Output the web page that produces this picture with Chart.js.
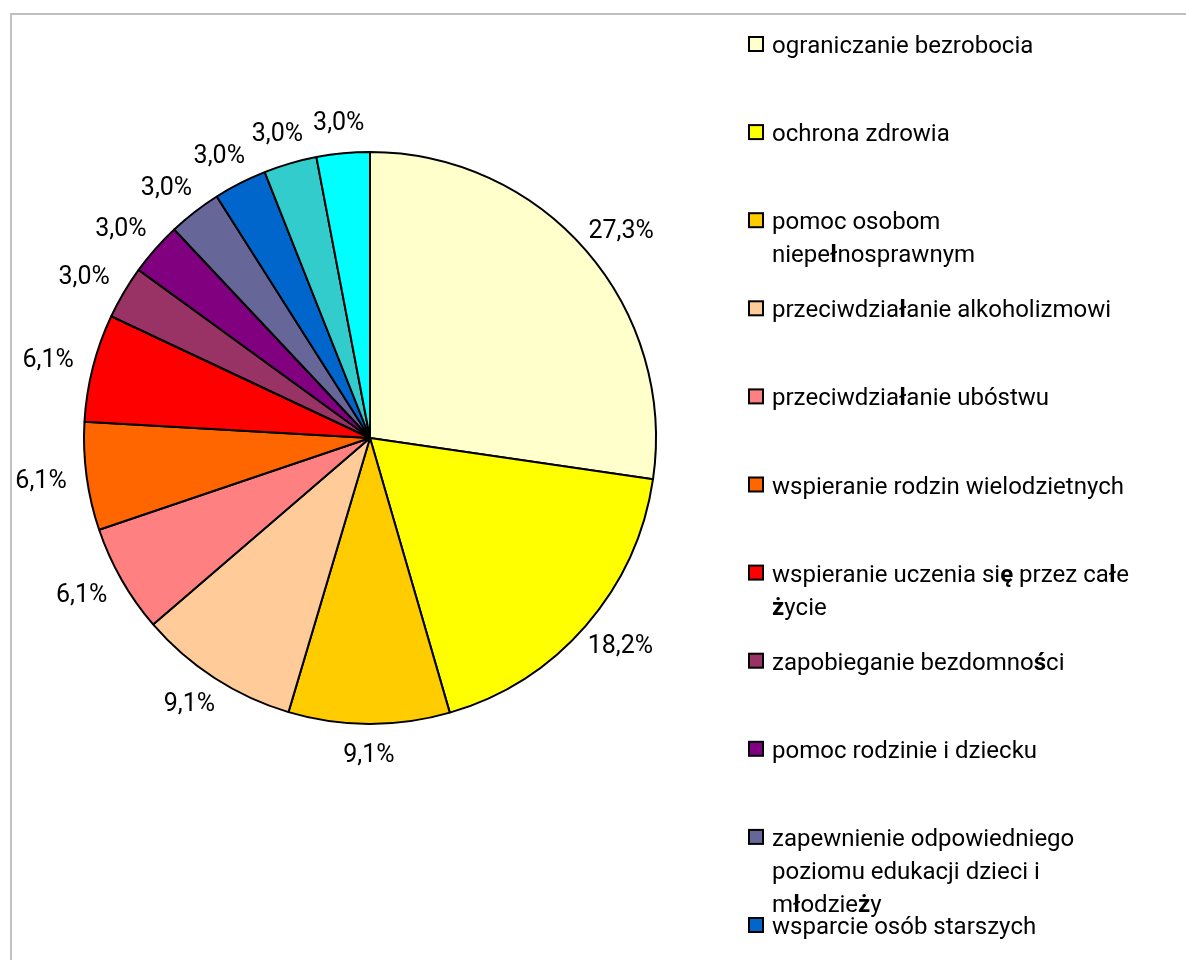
<!DOCTYPE html>
<html><head><meta charset="utf-8">
<script src="https://cdn.jsdelivr.net/npm/chart.js@4.4.0/dist/chart.umd.min.js"></script>
<style>
html,body{margin:0;padding:0;background:#fff;}
#wrap{position:relative;width:1186px;height:960px;overflow:hidden;}
#frame{position:absolute;left:10px;top:13px;width:1200px;height:1000px;border-top:2px solid #c0c0c0;border-left:2px solid #c0c0c0;}
#box{position:absolute;left:0;top:0;width:1186px;height:960px;}
</style></head><body>
<div id="wrap"><div id="frame"></div><div id="box"><canvas id="c"></canvas></div></div>
<script>
const categories = [
  ["ograniczanie bezrobocia"],
  ["ochrona zdrowia"],
  ["pomoc osobom", "niepełnosprawnym"],
  ["przeciwdziałanie alkoholizmowi"],
  ["przeciwdziałanie ubóstwu"],
  ["wspieranie rodzin wielodzietnych"],
  ["wspieranie uczenia się przez całe", "życie"],
  ["zapobieganie bezdomności"],
  ["pomoc rodzinie i dziecku"],
  ["zapewnienie odpowiedniego", "poziomu edukacji dzieci i", "młodzieży"],
  ["wsparcie osób starszych"],
  ["obszar 12"],
  ["obszar 13"]
];
const shares = [27.3, 18.2, 9.1, 9.1, 6.1, 6.1, 6.1, 3.0, 3.0, 3.0, 3.0, 3.0, 3.0];
const shareLabels = ["27,3%", "18,2%", "9,1%", "9,1%", "6,1%", "6,1%", "6,1%", "3,0%", "3,0%", "3,0%", "3,0%", "3,0%", "3,0%"];
const sliceColors = ["#FFFFCC", "#FFFF00", "#FFCC00", "#FFCC99", "#FF8080", "#FF6600", "#FF0000", "#993366", "#800080", "#666699", "#0066CC", "#33CCCC", "#00FFFF"];

const FONT = "Roboto, 'Liberation Sans', sans-serif";

const sliceLabelPlugin = {
  id: 'sliceLabels',
  afterDatasetsDraw(chart) {
    const ctx = chart.ctx;
    const meta = chart.getDatasetMeta(0);
    ctx.save();
    ctx.font = "25px " + FONT;
    ctx.fillStyle = "#000";
    ctx.textAlign = "center";
    ctx.textBaseline = "middle";
    meta.data.forEach((arc, i) => {
      const p = arc.getProps(['x', 'y', 'startAngle', 'endAngle', 'outerRadius'], true);
      const mid = (p.startAngle + p.endAngle) / 2;
      const rx = p.outerRadius + 46;
      const ry = p.outerRadius + 31;
      const x = p.x + Math.cos(mid) * rx;
      const y = p.y + Math.sin(mid) * ry;
      ctx.fillText(shareLabels[i], x, y + 1);
    });
    ctx.restore();
  }
};

function drawRuns(ctx, text, x, y) {
  // Latin Extended-A characters appear in a bolder fallback face in the reference
  let cur = x;
  for (const ch of text) {
    const ext = ch.charCodeAt(0) >= 0x100 && ch.charCodeAt(0) <= 0x17F;
    ctx.font = (ext ? "bold " : "") + "24px " + FONT;
    ctx.fillText(ch, cur, y);
    cur += ctx.measureText(ch).width;
  }
}

const legendPlugin = {
  id: 'sideLegend',
  afterDraw(chart) {
    const ctx = chart.ctx;
    ctx.save();
    ctx.textAlign = "left";
    ctx.textBaseline = "alphabetic";
    categories.forEach((lines, i) => {
      const yc = 44 + 88.1 * i;
      ctx.fillStyle = sliceColors[i];
      ctx.fillRect(749, yc - 7, 14, 14);
      ctx.strokeStyle = "#000";
      ctx.lineWidth = 2;
      ctx.strokeRect(749, yc - 7, 14, 14);
      ctx.fillStyle = "#000";
      lines.forEach((ln, k) => {
        drawRuns(ctx, ln, 772, yc + 9 + k * 33);
      });
    });
    ctx.restore();
  }
};

new Chart(document.getElementById('c'), {
  type: 'pie',
  data: {
    labels: categories,
    datasets: [{
      data: shares,
      backgroundColor: sliceColors,
      borderColor: "#000",
      borderWidth: 2
    }]
  },
  options: {
    responsive: true,
    maintainAspectRatio: false,
    animation: false,
    layout: { padding: { left: 83, right: 529, top: 151, bottom: 235 } },
    plugins: { legend: { display: false }, tooltip: { enabled: false } }
  },
  plugins: [sliceLabelPlugin, legendPlugin]
});
</script>
</body></html>
